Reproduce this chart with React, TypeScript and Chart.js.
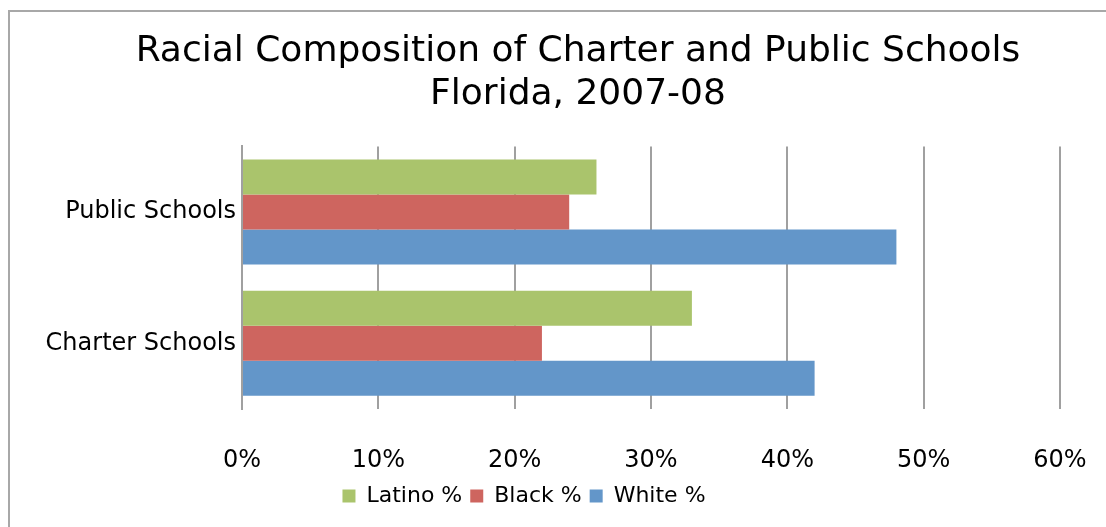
import React, { useEffect, useRef } from "react";
import { Chart, registerables } from "chart.js";

Chart.register(...registerables);

const categories = ["Public Schools", "Charter Schools"];
const latinoPct = [26, 33];
const blackPct = [24, 22];
const whitePct = [48, 42];
const xTicks = [0, 10, 20, 30, 40, 50, 60];
const titleLines = ["Racial Composition of Charter and Public Schools", "Florida, 2007-08"];

const FONT = "'DejaVu Sans', sans-serif";

const shiftBoxes = {
  id: "shiftBoxes",
  afterLayout(chart: any) {
    const lg = chart.legend;
    if (lg) {
      lg.left -= 6;
      lg.right -= 6;
    }
    const t = chart.titleBlock;
    if (t) {
      t.left += 48;
      t.right += 48;
    }
  },
};

export default function App() {
  const ref = useRef<HTMLCanvasElement | null>(null);
  useEffect(() => {
    if (!ref.current) return;
    const chart = new Chart(ref.current, {
      type: "bar",
      data: {
        labels: categories,
        datasets: [
          { label: "Latino %", data: latinoPct, backgroundColor: "#AAC46C" },
          { label: "Black %", data: blackPct, backgroundColor: "#CE655F" },
          { label: "White %", data: whitePct, backgroundColor: "#6396C9" },
        ],
      },
      plugins: [shiftBoxes],
      options: {
        indexAxis: "y",
        animation: false,
        responsive: false,
        maintainAspectRatio: false,
        devicePixelRatio: 1,
        datasets: { bar: { categoryPercentage: 0.8, barPercentage: 1.0 } },
        layout: { padding: { left: 0, right: 104, top: 0, bottom: 10 } },
        plugins: {
          title: {
            display: true,
            text: titleLines,
            color: "#000",
            font: { family: FONT, size: 36, weight: "normal", lineHeight: 1.2 },
            padding: { top: 30, bottom: 30 },
          },
          legend: {
            position: "bottom",
            labels: {
              color: "#000",
              font: { family: FONT, size: 22 },
              boxWidth: 13,
              boxHeight: 13,
              padding: 8,
            },
          },
          tooltip: { enabled: false },
        },
        scales: {
          x: {
            min: 0,
            max: 60,
            afterBuildTicks: (s: any) => {
              s.ticks = xTicks.map((v) => ({ value: v }));
            },
            afterFit: (s: any) => {
              s.height = 68;
            },
            ticks: {
              color: "#000",
              font: { family: FONT, size: 24 },
              padding: 37,
              callback: (v: any) => v + "%",
            },
            grid: { color: "#A0A0A0", lineWidth: 2, drawTicks: false },
            border: { display: false },
          },
          y: {
            afterFit: (s: any) => {
              s.width = 242;
            },
            ticks: {
              color: "#000",
              font: { family: FONT, size: 24 },
              padding: 6,
            },
            grid: { display: false, drawTicks: false },
            border: { display: true, color: "#A0A0A0", width: 2 },
          },
        },
      },
    });
    return () => chart.destroy();
  }, []);

  return (
    <div style={{ position: "fixed", left: 0, top: 0, width: 1106, height: 527, overflow: "hidden", background: "#fff" }}>
      <canvas ref={ref} width={1164} height={527} style={{ position: "absolute", left: 0, top: 0, width: 1164, height: 527 }} />
      <div style={{ position: "absolute", left: 8, top: 10, width: 1200, height: 600, border: "2px solid #A8A8A8", pointerEvents: "none" }} />
    </div>
  );
}
